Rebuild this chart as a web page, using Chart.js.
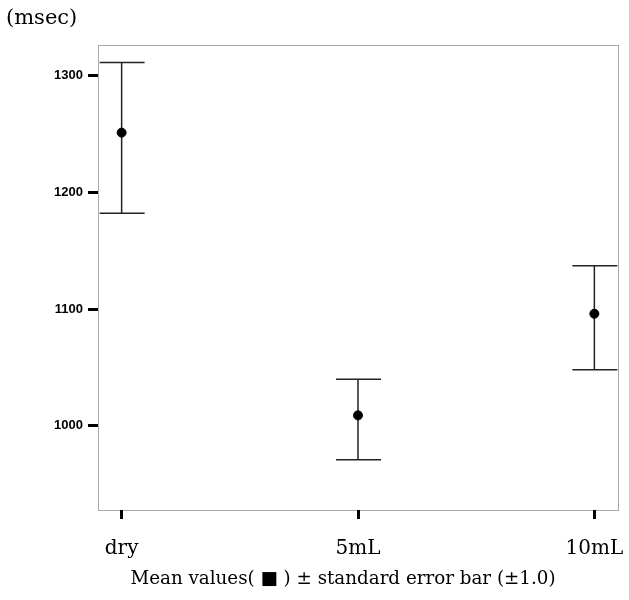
<!DOCTYPE html>
<html>
<head>
<meta charset="utf-8">
<script src="https://cdn.jsdelivr.net/npm/chart.js@4.4.1/dist/chart.umd.min.js"></script>
<style>
  html, body { margin: 0; padding: 0; background: #fff; }
  #wrap { width: 629px; height: 600px; position: relative; }
</style>
</head>
<body>
<div id="wrap"><canvas id="chart"></canvas></div>
<script>
// groups along the x axis
const groups = ['dry', '5mL', '10mL'];
// mean values (msec)
const means = [1251, 1009, 1096];
// mean + 1 SE and mean - 1 SE
const upperVals = [1311, 1040, 1137];
const lowerVals = [1182, 971, 1048];
// y ticks
const yTicks = [1000, 1100, 1200, 1300];

const serif = '"DejaVu Serif", "Liberation Serif", serif';

const errorBars = {
    id: 'errorBars',
    beforeDatasetsDraw(chart) {
        const { ctx, scales: { x, y } } = chart;
        ctx.save();
        ctx.strokeStyle = '#222';
        ctx.lineWidth = 1.5;
        groups.forEach((g, i) => {
            const px = x.getPixelForValue(i);
            const top = y.getPixelForValue(upperVals[i]);
            const bot = y.getPixelForValue(lowerVals[i]);
            ctx.beginPath();
            ctx.moveTo(px, top);
            ctx.lineTo(px, bot);
            ctx.moveTo(px - 22, top);
            ctx.lineTo(px + 23, top);
            ctx.moveTo(px - 22, bot);
            ctx.lineTo(px + 23, bot);
            ctx.stroke();
        });
        ctx.restore();
    }
};

const frame = {
    id: 'frame',
    beforeDraw(chart) {
        const { ctx, chartArea: a } = chart;
        ctx.save();
        ctx.strokeStyle = '#555';
        ctx.lineWidth = 1;
        ctx.setLineDash([1, 1]);
        ctx.strokeRect(a.left + 0.5, a.top + 0.5, a.right - a.left, a.bottom - a.top);
        ctx.restore();
    },
    afterDraw(chart) {
        const { ctx } = chart;
        ctx.save();
        ctx.fillStyle = '#000';
        ctx.textBaseline = 'middle';
        ctx.font = '21px ' + serif;
        ctx.textAlign = 'left';
        ctx.fillText('(msec)', 6, 19);
        ctx.font = '18.3px ' + serif;
        ctx.textAlign = 'center';
        ctx.fillText('Mean values( \u25A0 ) \u00B1 standard error bar (\u00B11.0)', 343, 579);
        ctx.restore();
    }
};

new Chart(document.getElementById('chart'), {
    type: 'scatter',
    data: {
        datasets: [{
            data: means.map((m, i) => ({ x: i, y: m })),
            backgroundColor: '#000',
            borderColor: '#000',
            pointRadius: 4.5,
            pointHoverRadius: 4.5
        }]
    },
    options: {
        responsive: true,
        maintainAspectRatio: false,
        animation: false,
        layout: { padding: { top: 45, right: 11, left: 0, bottom: 0 } },
        plugins: {
            legend: { display: false },
            tooltip: { enabled: false }
        },
        scales: {
            x: {
                type: 'linear',
                min: -0.1,
                max: 2.1,
                afterBuildTicks: s => { s.ticks = groups.map((g, i) => ({ value: i })); },
                afterFit: s => { s.height = 90; s.paddingLeft = 0; s.paddingRight = 0; },
                border: { display: false },
                grid: {
                    drawOnChartArea: false,
                    tickLength: 9,
                    tickWidth: 3,
                    tickColor: '#000'
                },
                ticks: {
                    color: '#000',
                    padding: 18,
                    font: { family: serif, size: 20 },
                    callback: v => groups[v]
                }
            },
            y: {
                min: 928,
                max: 1326,
                afterBuildTicks: s => { s.ticks = yTicks.map(v => ({ value: v })); },
                afterFit: s => { s.width = 98; },
                border: { display: false },
                grid: {
                    drawOnChartArea: false,
                    tickLength: 10,
                    tickWidth: 3,
                    tickColor: '#000'
                },
                ticks: {
                    color: '#000',
                    padding: 5,
                    font: { family: '"Liberation Sans", Arial, sans-serif', size: 13, weight: 'bold' },
                    callback: v => String(v)
                }
            }
        }
    },
    plugins: [errorBars, frame]
});
</script>
</body>
</html>
